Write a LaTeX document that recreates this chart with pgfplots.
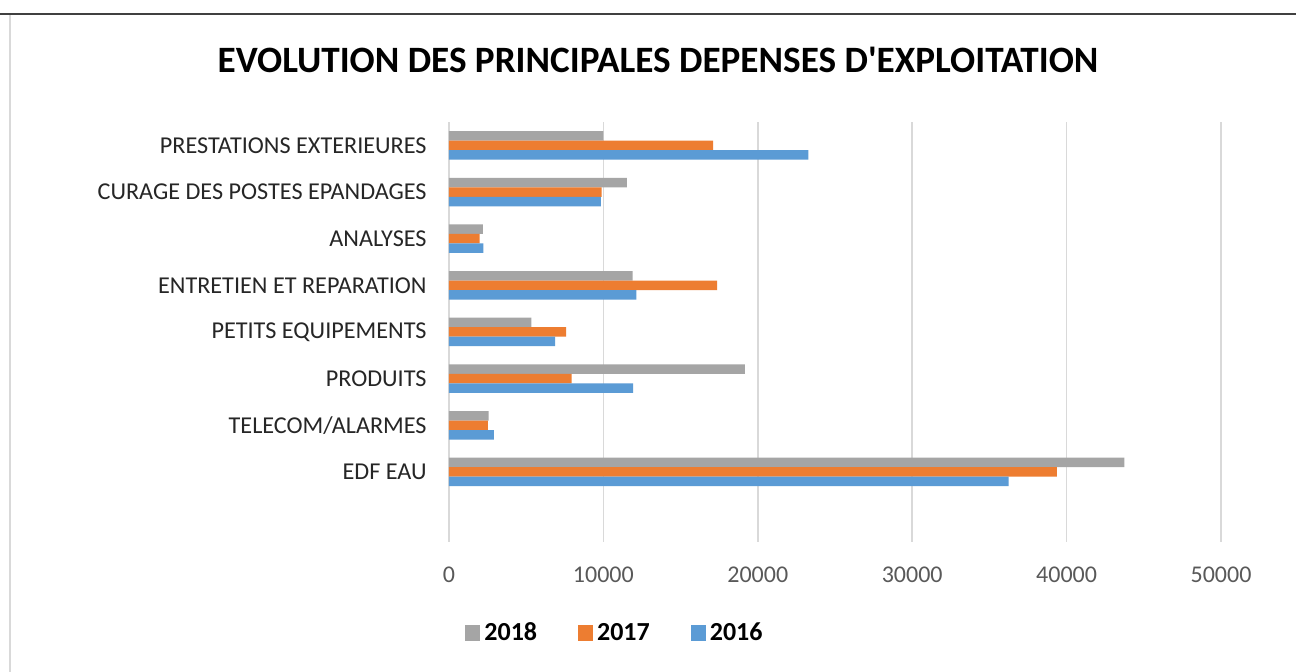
\documentclass[border=0pt]{standalone}
\usepackage{pgfplots}
\pgfplotsset{compat=1.18}
\usepackage{fontspec}
\setmainfont{Carlito}
\definecolor{c2018}{HTML}{A5A5A5}
\definecolor{c2017}{HTML}{ED7D31}
\definecolor{c2016}{HTML}{5B9BD5}
\definecolor{gridgray}{HTML}{D9D9D9}
\definecolor{ticktext}{HTML}{595959}
\definecolor{cattext}{HTML}{262626}
\begin{document}
\begin{tikzpicture}
\useasboundingbox (0,0) rectangle (648pt,336pt);
\fill[white] (0,0) rectangle (648pt,336pt);
\draw[line width=1pt, color=black!75] (0,329pt) -- (648pt,329pt);
\draw[line width=1pt, color=gridgray] (4.75pt,0) -- (4.75pt,328.5pt);
\node[font=\bfseries\fontsize{18.6}{22}\selectfont, anchor=center] at (329pt,306pt) {EVOLUTION DES PRINCIPALES DEPENSES D\textquotesingle EXPLOITATION};
\begin{axis}[
  at={(224.5pt,65pt)}, anchor=south west,
  scale only axis, width=386pt, height=210pt,
  xbar, bar width=4.75pt,
  xmin=0, xmax=50000, ymin=-0.5, ymax=8.5,
  xtick={0,10000,20000,30000,40000,50000},
  xticklabels={0,10000,20000,30000,40000,50000},
  scaled x ticks=false,
  xticklabel style={anchor=center, yshift=-16.5pt, inner sep=0pt, text=ticktext, font=\fontsize{12}{14}\selectfont},
  ytick={1,2,3,4,5,6,7,8},
  yticklabels={EDF EAU, TELECOM/ALARMES, PRODUITS, PETITS EQUIPEMENTS, ENTRETIEN ET REPARATION, ANALYSES, CURAGE DES POSTES EPANDAGES, PRESTATIONS EXTERIEURES},
  yticklabel style={anchor=east, xshift=-11pt, inner sep=0pt, text=cattext, font=\fontsize{12.1}{14}\selectfont},
  xmajorgrids, ymajorgrids=false,
  major grid style={draw=gridgray, line width=0.8pt},
  axis line style={draw=none},
  major tick length=0pt,
  legend columns=3,
  legend style={draw=none, fill=none, at={(0.2163,-0.2167)}, anchor=center,
    font=\bfseries\fontsize{13}{15}\selectfont,
    /tikz/every even column/.append style={column sep=18.5pt},
    inner sep=0pt},
  legend cell align=left,
]
\addplot[fill=c2018, draw=none, bar shift=4.75pt,
  legend image code/.code={\fill[c2018] (0pt,-3.75pt) rectangle (7.5pt,3.75pt);}]
  coordinates {(43750,1) (2570,2) (19160,3) (5330,4) (11890,5) (2200,6) (11520,7) (10000,8)};
\addlegendentry{2018}
\addplot[fill=c2017, draw=none, bar shift=0pt,
  legend image code/.code={\fill[c2017] (0pt,-3.75pt) rectangle (7.5pt,3.75pt);}]
  coordinates {(39370,1) (2520,2) (7940,3) (7590,4) (17370,5) (1990,6) (9880,7) (17110,8)};
\addlegendentry{2017}
\addplot[fill=c2016, draw=none, bar shift=-4.75pt,
  legend image code/.code={\fill[c2016] (0pt,-3.75pt) rectangle (7.5pt,3.75pt);}]
  coordinates {(36250,1) (2910,2) (11930,3) (6880,4) (12130,5) (2230,6) (9840,7) (23280,8)};
\addlegendentry{2016}
\end{axis}
\end{tikzpicture}
\end{document}
